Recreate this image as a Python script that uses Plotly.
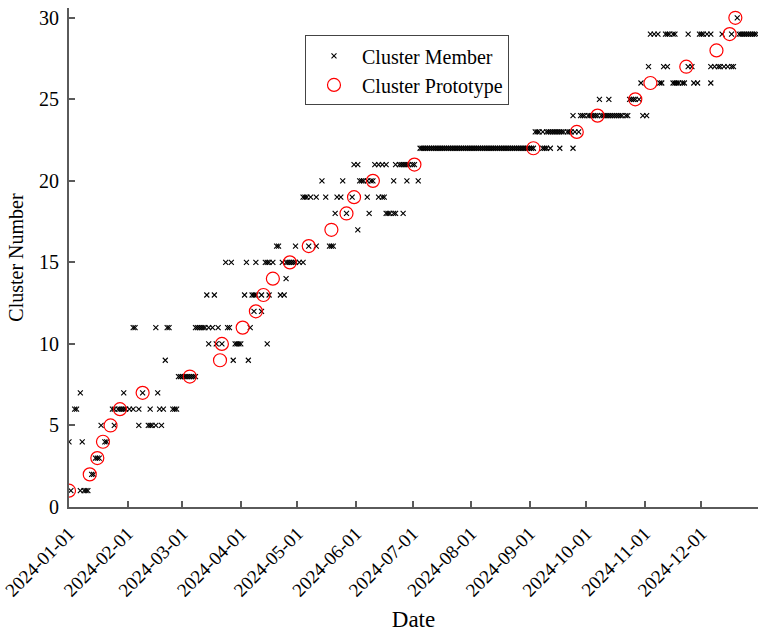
import pandas as pd
import plotly.graph_objects as go

YEAR_START = pd.Timestamp("2024-01-01")

# Cluster ids, 1..30
cluster_ids = [1, 2, 3, 4, 5, 6, 7, 8, 9, 10,
               11, 12, 13, 14, 15, 16, 17, 18, 19, 20,
               21, 22, 23, 24, 25, 26, 27, 28, 29, 30]

# Day offsets (0 = 1 January 2024) of the member samples of each cluster
member_days = [
    [1, 6, 8, 9, 10],                                                    # 1
    [12, 13],                                                            # 2
    [14, 15, 16],                                                        # 3
    [0, 7, 19, 20],                                                      # 4
    [17, 24, 37, 42, 43, 44, 46, 49],                                    # 5
    [3, 4, 23, 24, 26, 27, 28, 29, 30, 32, 34, 37, 43, 48, 50, 55, 56, 57],  # 6
    [6, 29, 39, 47],                                                     # 7
    [58, 59, 60, 61, 62, 63, 64, 65, 66, 67],                            # 8
    [51, 87, 95],                                                        # 9
    [74, 78, 81, 88, 89, 90, 91, 105],                                   # 10
    [34, 35, 46, 52, 53, 67, 68, 69, 70, 71, 72, 74, 76, 79, 84, 85, 96],  # 11
    [98, 102],                                                           # 12
    [73, 77, 93, 97, 98, 99, 102, 106, 112, 114],                        # 13
    [115],                                                               # 14
    [83, 86, 94, 99, 104, 105, 106, 108, 113, 115, 116, 117, 118, 119,
     120, 122, 124],                                                     # 15
    [110, 111, 120, 127, 131, 138, 139, 140],                            # 16
    [153],                                                               # 17
    [141, 147, 159, 168, 169, 170, 172, 173, 177],                       # 18
    [124, 125, 126, 128, 131, 136, 142, 144, 150, 158, 164, 166, 167],   # 19
    [134, 145, 154, 155, 156, 158, 160, 161, 172, 179, 185],             # 20
    [151, 153, 162, 164, 166, 168, 173, 175, 176, 177, 178, 179, 180,
     182, 183],                                                          # 21
    [186, 187, 188, 189, 190, 191, 192, 193, 194, 195, 196, 197, 198,
     199, 200, 201, 202, 203, 204, 205, 206, 207, 208, 209, 210, 211,
     212, 213, 214, 215, 216, 217, 218, 219, 220, 221, 222, 223, 224,
     225, 226, 227, 228, 229, 230, 231, 232, 233, 234, 235, 236, 237,
     238, 239, 240, 241, 242, 243, 244, 245, 246,
     251, 252, 253, 255, 260, 267],                                      # 22
    [247, 248, 249, 251, 253, 254, 255, 256, 257, 258, 259, 260, 261,
     262, 264, 265, 266, 268, 270],                                      # 23
    [267, 271, 272, 273, 275, 276, 277, 278, 279, 280, 282, 283, 284,
     285, 286, 287, 288, 289, 290, 291, 292, 293, 295, 296, 304, 306],   # 24
    [281, 286, 297, 298, 299, 300, 302],                                 # 25
    [303, 313, 314, 320, 321, 322, 323, 325, 326, 331, 333, 340],        # 26
    [307, 315, 317, 328, 330, 340, 342, 344, 345, 347, 349, 351, 352],   # 27
    [],                                                                  # 28
    [308, 310, 312, 316, 317, 318, 320, 321, 328, 334, 335, 336, 338,
     340, 346, 351, 355, 356, 357, 358, 359, 360, 361, 362, 363, 364],   # 29
    [354],                                                               # 30
]

# Day offset of the prototype of each cluster
prototype_days = [0, 11, 15, 18, 22, 27, 39, 64, 80, 81,
                  92, 99, 103, 108, 117, 127, 139, 147, 151, 161,
                  183, 246, 269, 280, 300, 308, 327, 343, 350, 353]

month_ticks = ["2024-01-01", "2024-02-01", "2024-03-01", "2024-04-01",
               "2024-05-01", "2024-06-01", "2024-07-01", "2024-08-01",
               "2024-09-01", "2024-10-01", "2024-11-01", "2024-12-01"]
cluster_ticks = [0, 5, 10, 15, 20, 25, 30]

member_x, member_y = [], []
for cid, days in zip(cluster_ids, member_days):
    for d in days:
        member_x.append(YEAR_START + pd.Timedelta(days=d))
        member_y.append(cid)

proto_x = [YEAR_START + pd.Timedelta(days=d) for d in prototype_days]
proto_y = cluster_ids

FONT = "Liberation Serif"
AXIS_COLOR = "#5a5a5a"

fig = go.Figure()
fig.add_trace(go.Scatter(
    x=member_x, y=member_y, mode="markers", name="Cluster Member",
    marker=dict(symbol="x-thin", size=5, color="black",
                line=dict(width=1.1, color="black")),
))
fig.add_trace(go.Scatter(
    x=proto_x, y=proto_y, mode="markers", name="Cluster Prototype",
    marker=dict(symbol="circle-open", size=13, color="red",
                line=dict(width=1.2, color="red")),
))

fig.update_layout(
    width=758, height=632,
    margin=dict(l=69, r=0, t=8, b=125),
    plot_bgcolor="white", paper_bgcolor="white",
    font=dict(family=FONT, size=20, color="black"),
    showlegend=True,
    legend=dict(
        x=0.3425, y=0.945, xanchor="left", yanchor="top",
        bgcolor="white", bordercolor="#444", borderwidth=1,
        font=dict(family=FONT, size=20),
        itemwidth=46, tracegroupgap=0,
    ),
)
fig.update_xaxes(
    type="date", range=["2024-01-01", "2024-12-31"],
    tickvals=month_ticks, tickformat="%Y-%m-%d", tickangle=-45,
    tickfont=dict(family=FONT, size=19),
    ticks="inside", ticklen=6, tickwidth=1.5, tickcolor=AXIS_COLOR,
    ticklabelstandoff=6, ticklabeloverflow="allow",
    showline=True, linecolor=AXIS_COLOR, linewidth=2, mirror=False,
    showgrid=False, zeroline=False,
    title=dict(text="Date", font=dict(family=FONT, size=23), standoff=14),
    automargin=False,
)
fig.update_yaxes(
    range=[0, 30.6], tickvals=cluster_ticks,
    ticks="inside", ticklen=6, tickwidth=1.5, tickcolor=AXIS_COLOR,
    ticklabelstandoff=4,
    showline=True, linecolor=AXIS_COLOR, linewidth=2, mirror=False,
    showgrid=False, zeroline=False,
    title=dict(text="Cluster Number", font=dict(family=FONT, size=20),
               standoff=10),
    automargin=False,
)

fig.write_html("out.html")
